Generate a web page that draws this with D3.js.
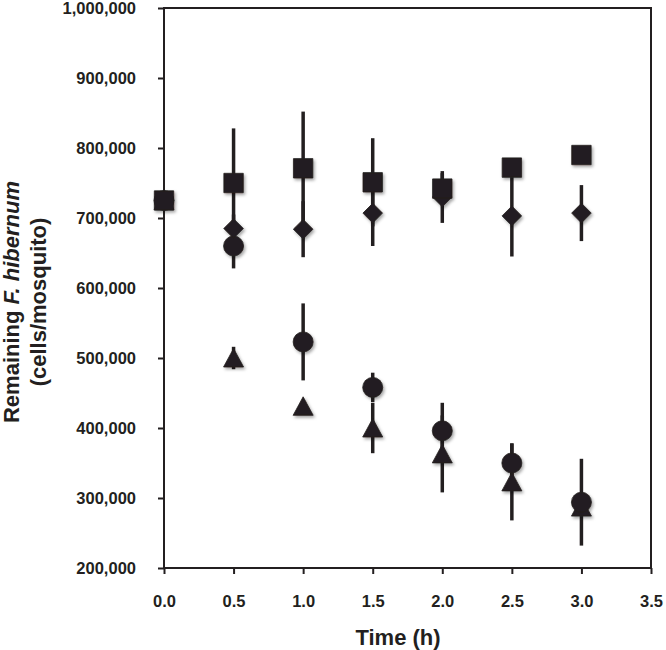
<!DOCTYPE html>
<html>
<head>
<meta charset="utf-8">
<script src="https://cdn.jsdelivr.net/npm/d3@7"></script>
<style>
  html, body { margin: 0; padding: 0; background: #fff; }
  svg { display: block; font-family: "Liberation Sans", Arial, sans-serif; }
</style>
</head>
<body>
<svg id="chart" width="666" height="650"></svg>
<script>
// ---- data ----
const times = [0, 0.5, 1.0, 1.5, 2.0, 2.5, 3.0];
const squareVals   = [725000, 750000, 771000, 751000, 742000, 772000, 790000];
const squareErr    = [0, 78000, 81000, 63000, 22000, 12000, 8000];
const diamondVals  = [725000, 685000, 684000, 707000, 730000, 703000, 707000];
const diamondErr   = [0, 20000, 40000, 47000, 37000, 58000, 40000];
const circleVals   = [725000, 660000, 523000, 458000, 396000, 350000, 294000];
const circleErr    = [0, 32000, 55000, 21000, 40000, 28000, 62000];
const triangleVals = [725000, 500000, 431000, 400000, 363000, 323000, 287000];
const triangleErr  = [0, 16000, 5000, 36000, 55000, 55000, 10000];
const xTicks = [0, 0.5, 1.0, 1.5, 2.0, 2.5, 3.0, 3.5];
const yTicks = [200000, 300000, 400000, 500000, 600000, 700000, 800000, 900000, 1000000];

const ink = "#231f20";
const svg = d3.select("#chart");
const L = 164, R = 651, T = 8, B = 568;

const x = d3.scaleLinear().domain([0, 3.5]).range([L, R]);
const y = d3.scaleLinear().domain([200000, 1000000]).range([B, T]);

// shadow filter
const defs = svg.append("defs");
const f = defs.append("filter").attr("id", "sh").attr("x", "-50%").attr("y", "-50%").attr("width", "200%").attr("height", "200%");
f.append("feDropShadow").attr("dx", 1.5).attr("dy", 2).attr("stdDeviation", 1.8)
  .attr("flood-color", "#000").attr("flood-opacity", 0.35);

// axes
const fmt = d3.format(",");
const yAxis = d3.axisLeft(y).tickValues(yTicks).tickFormat(fmt).tickSize(6).tickPadding(22);
const xAxis = d3.axisBottom(x).tickValues(xTicks).tickFormat(d3.format(".1f")).tickSize(6).tickPadding(22);

const gy = svg.append("g").attr("transform", `translate(${L},0)`).call(yAxis);
const gx = svg.append("g").attr("transform", `translate(0,${B})`).call(xAxis);
[gx, gy].forEach(g => {
  g.select(".domain").remove();
  g.selectAll(".tick line").attr("stroke", ink).attr("stroke-width", 2);
  g.selectAll(".tick text").attr("fill", ink).style("font-size", "16.5px").style("font-weight", "bold");
});
gx.selectAll(".tick text").attr("dy", null).attr("y", 39);

// frame
svg.append("rect").attr("x", L).attr("y", T).attr("width", R - L).attr("height", B - T)
  .attr("fill", "none").attr("stroke", ink).attr("stroke-width", 2);

// series
const series = [
  {vals: triangleVals, err: triangleErr, shape: "triangle"},
  {vals: circleVals, err: circleErr, shape: "circle"},
  {vals: diamondVals, err: diamondErr, shape: "diamond"},
  {vals: squareVals, err: squareErr, shape: "square"}
];

const bars = svg.append("g");
series.forEach(s => {
  times.forEach((t, i) => {
    if (s.err[i] > 0) {
      bars.append("line")
        .attr("x1", x(t)).attr("x2", x(t))
        .attr("y1", y(s.vals[i] - s.err[i])).attr("y2", y(s.vals[i] + s.err[i]))
        .attr("stroke", ink).attr("stroke-width", 3.5);
    }
  });
});

function shapePath(shape, cx, cy) {
  const p = d3.path();
  if (shape === "square") {
    const h = 9.7;
    p.rect(cx - h, cy - h, 2 * h, 2 * h);
  } else if (shape === "diamond") {
    p.moveTo(cx, cy - 9.8); p.lineTo(cx + 9.8, cy); p.lineTo(cx, cy + 9.8); p.lineTo(cx - 9.8, cy); p.closePath();
  } else if (shape === "triangle") {
    p.moveTo(cx, cy - 9.5); p.lineTo(cx + 10, cy + 9); p.lineTo(cx - 10, cy + 9); p.closePath();
  } else {
    p.arc(cx, cy, 10, 0, 2 * Math.PI);
  }
  return p.toString();
}

const marks = svg.append("g").attr("filter", "url(#sh)");
series.forEach(s => {
  marks.append("g").selectAll("path")
    .data(times.map((t, i) => ({t, v: s.vals[i]})))
    .join("path")
    .attr("d", d => shapePath(s.shape, x(d.t), y(d.v)))
    .attr("fill", ink)
    .attr("stroke", ink).attr("stroke-width", 0.8).attr("stroke-linejoin", "round");
});

// titles
svg.append("text").attr("x", 398).attr("y", 645).attr("text-anchor", "middle")
  .attr("fill", ink).style("font-size", "22px").style("font-weight", "bold").text("Time (h)");

const yt = svg.append("text").attr("transform", "translate(19,302) rotate(-90)")
  .attr("text-anchor", "middle").attr("fill", ink).style("font-size", "22px").style("font-weight", "bold");
yt.append("tspan").text("Remaining ");
yt.append("tspan").style("font-style", "italic").text("F. hibernum");

svg.append("text").attr("transform", "translate(46,302) rotate(-90)")
  .attr("text-anchor", "middle").attr("fill", ink).style("font-size", "22px").style("font-weight", "bold")
  .text("(cells/mosquito)");
</script>
</body>
</html>
